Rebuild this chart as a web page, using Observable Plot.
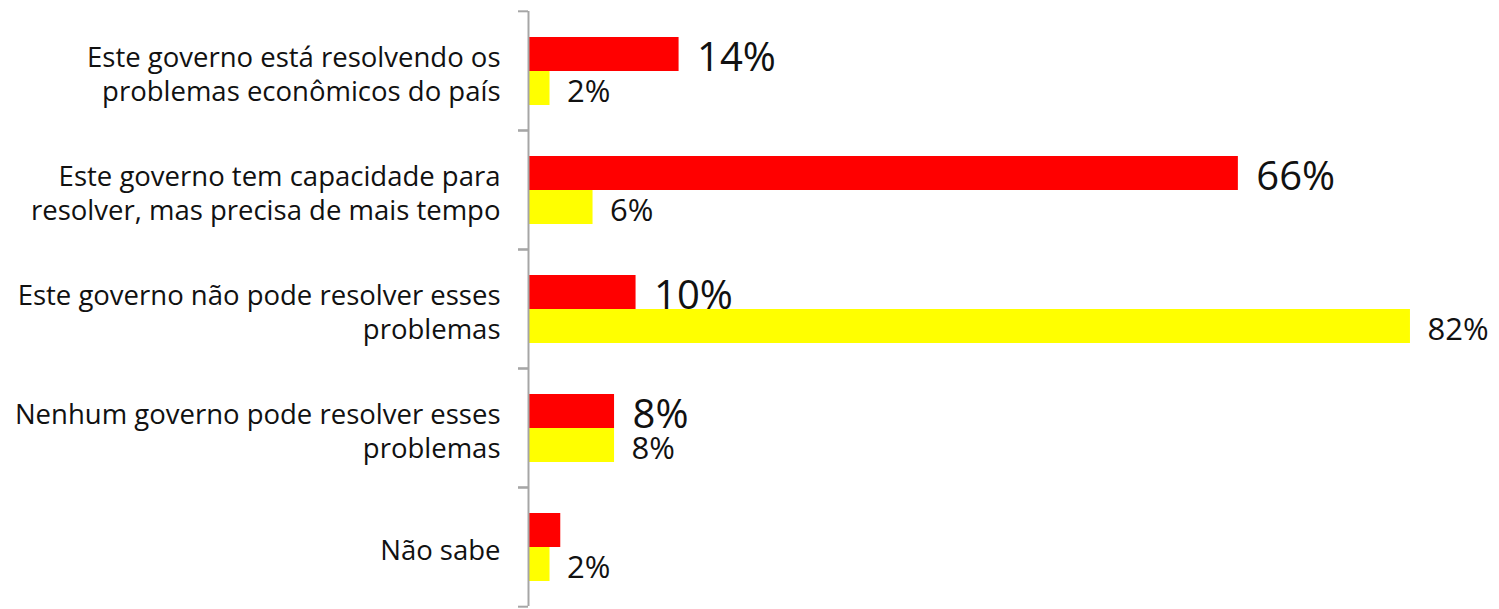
<!DOCTYPE html>
<html>
<head>
<meta charset="utf-8">
<script src="https://cdn.jsdelivr.net/npm/d3@7"></script>
<script src="https://cdn.jsdelivr.net/npm/@observablehq/plot@0.6"></script>
<style>
  html, body { margin: 0; padding: 0; background: #fff; }
</style>
</head>
<body>
<div id="chart"></div>
<script>
const categories = [
  "Este governo está resolvendo os\nproblemas econômicos do país",
  "Este governo tem capacidade para\nresolver, mas precisa de mais tempo",
  "Este governo não pode resolver esses\nproblemas",
  "Nenhum governo pode resolver esses\nproblemas",
  "Não sabe"
];
const series = ["red", "yellow"];
const redValues = [14, 66, 10, 8, 3];
const yellowValues = [2, 6, 82, 8, 2];
const redLabels = ["14%", "66%", "10%", "8%", ""];
const yellowLabels = ["2%", "6%", "82%", "8%", "2%"];
const colors = ["#ff2600", "#ffff00"];

const rows = [];
categories.forEach((c, i) => {
  rows.push({category: c, series: "red", value: redValues[i], label: redLabels[i]});
  rows.push({category: c, series: "yellow", value: yellowValues[i], label: yellowLabels[i]});
});

const W = 1499, H = 609, mTop = 10, mBottom = 2;
const halfStep = (H - mTop - mBottom) / categories.length / 2;

const chart = Plot.plot({
  width: W,
  height: H,
  marginLeft: 528,
  marginRight: 3,
  marginTop: mTop,
  marginBottom: mBottom,
  style: {fontFamily: "'Open Sans', sans-serif", color: "#000", background: "#fff"},
  x: {domain: [0, 90], axis: null},
  y: {domain: series, paddingInner: 0, paddingOuter: 0.73, axis: null},
  fy: {domain: categories, padding: 0, axis: null},
  color: {domain: series, range: colors},
  marks: [
    Plot.barX(rows, {x: "value", y: "series", fy: "category", fill: "series"}),
    Plot.ruleX([0], {stroke: "#a6a6a6", strokeWidth: 2}),
    Plot.axisFy({anchor: "left", tickSize: 10, tickFormat: () => "", label: null, stroke: "#a6a6a6", strokeWidth: 2, dy: -halfStep}),
    Plot.axisFy({anchor: "left", tickSize: 10, tickFormat: () => "", label: null, stroke: "#a6a6a6", strokeWidth: 2, dy: halfStep}),
    Plot.text(categories, {fy: d => d, text: d => d, frameAnchor: "left", dx: -28, dy: 2, textAnchor: "end", fontSize: 27.5, lineHeight: 1.24, fill: "#111"}),
    Plot.text(rows.filter(d => d.series === "red"), {x: "value", y: "series", fy: "category", text: "label", dx: 18, dy: 4, textAnchor: "start", fontSize: 40, fill: "#111"}),
    Plot.text(rows.filter(d => d.series === "yellow"), {x: "value", y: "series", fy: "category", text: "label", dx: 17, dy: 4, textAnchor: "start", fontSize: 31, fill: "#111"})
  ]
});
document.getElementById("chart").appendChild(chart);
</script>
</body>
</html>
